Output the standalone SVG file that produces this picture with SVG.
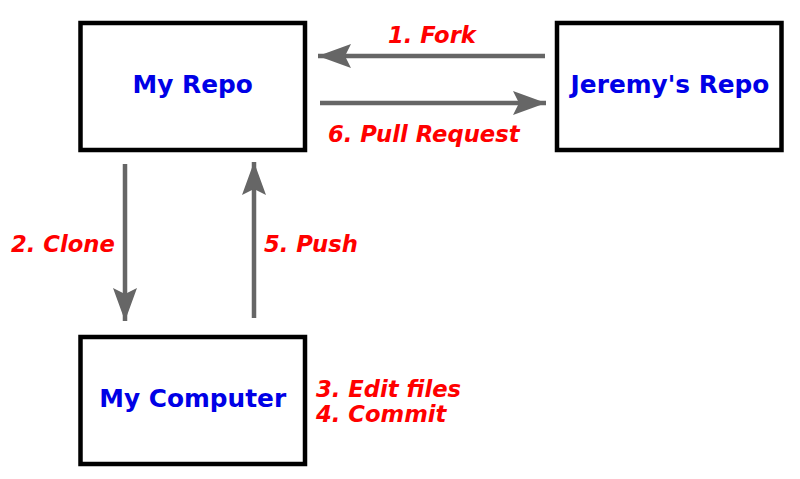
<svg xmlns="http://www.w3.org/2000/svg" width="800" height="479" viewBox="0 0 800 479">
<style>
.box{fill:#fff;stroke:#000;stroke-width:4.5}
.name{font-family:"DejaVu Sans",sans-serif;font-weight:bold;font-size:24.8px;fill:#0000e6;text-anchor:middle}
.lab{font-family:"DejaVu Sans",sans-serif;font-weight:bold;font-style:oblique;font-size:22.7px;fill:#ff0000}
.arr{stroke:#666;stroke-width:4.5;fill:none;marker-end:url(#ah)}
</style>
<defs>
<marker id="ah" markerUnits="userSpaceOnUse" viewBox="-34 -13 35 26" refX="0" refY="0" markerWidth="35" markerHeight="26" orient="auto">
<path d="M0,0 L-33,-12 L-27,0 L-33,12 Z" fill="#666"/>
</marker>
</defs>
<rect width="800" height="479" fill="#fff"/>
<g id="connectors">
<line class="arr" x1="545" y1="56" x2="318" y2="56"/>
<line class="arr" x1="320" y1="103" x2="546" y2="103"/>
<line class="arr" x1="125" y1="164" x2="125" y2="321"/>
<line class="arr" x1="254" y1="318" x2="254" y2="162"/>
</g>
<g id="my-repo">
<rect class="box" x="80.5" y="23" width="224.5" height="127"/>
<text class="name" x="192.7" y="93">My Repo</text>
</g>
<g id="jeremys-repo">
<rect class="box" x="557" y="23" width="224.5" height="127"/>
<text class="name" x="670" y="93">Jeremy's Repo</text>
</g>
<g id="my-computer">
<rect class="box" x="80.5" y="337" width="224.5" height="127"/>
<text class="name" x="192.7" y="407">My Computer</text>
</g>
<g id="labels">
<text class="lab" x="388" y="43">1. Fork</text>
<text class="lab" x="328" y="142">6. Pull Request</text>
<text class="lab" x="11" y="252">2. Clone</text>
<text class="lab" x="264" y="252">5. Push</text>
<text class="lab" x="316" y="397">3. Edit files</text>
<text class="lab" x="316" y="422">4. Commit</text>
</g>
</svg>
